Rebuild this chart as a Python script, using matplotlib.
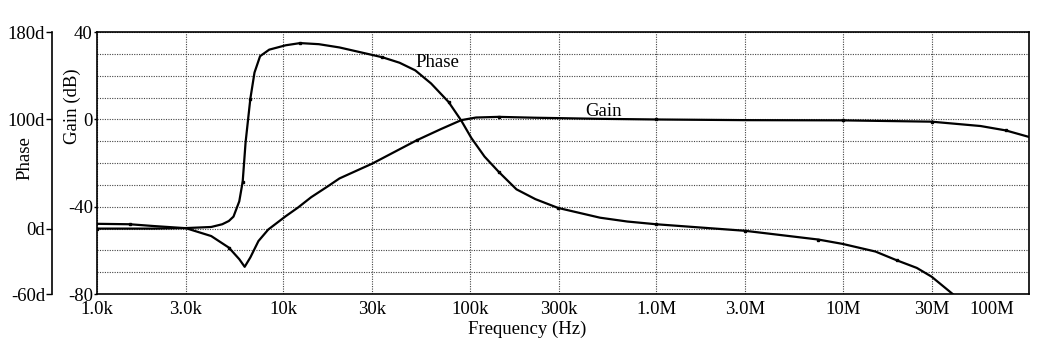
import numpy as np
import matplotlib
matplotlib.use('Agg')
import matplotlib.pyplot as plt
import matplotlib.transforms as mtransforms
from matplotlib.ticker import FixedLocator, NullFormatter

# Gain curve (Hz, dB)
freq_gain = [1e3, 1.5e3, 2e3, 3e3, 4.1e3, 5.1e3, 5.8e3, 6.2e3, 6.65e3, 7.35e3,
             8.3e3, 10.3e3, 12e3, 14.1e3, 17.4e3, 20e3, 30e3, 40e3, 52e3, 70e3,
             90e3, 108e3, 143e3, 225e3, 500e3, 1e6, 3e6, 10e6, 30e6, 55e6,
             75e6, 100e6]
gain_db = [-47.8, -48.0, -48.8, -49.8, -53.4, -58.7, -64.0, -67.5, -63.2, -55.7,
           -50.4, -44.3, -40.3, -35.6, -30.5, -27.0, -20.2, -14.6, -9.5, -4.4,
           -0.3, 0.9, 1.2, 0.8, 0.3, 0.0, -0.3, -0.4, -1.0, -3.0,
           -5.0, -8.0]
gain_marks = [1, 5, 18, 22, 25, 27, 28, 30]

# Phase curve (Hz, degrees)
freq_phase = [1e3, 2e3, 3e3, 4.1e3, 4.7e3, 5.1e3, 5.4e3, 5.8e3, 6.05e3, 6.27e3,
              6.65e3, 7.0e3, 7.5e3, 8.4e3, 10.3e3, 12.3e3, 15.5e3, 20e3, 34e3,
              42e3, 51e3, 62e3, 77e3, 90e3, 102e3, 120e3, 143e3, 178e3, 225e3,
              297e3, 500e3, 700e3, 1e6, 3e6, 7.4e6, 10e6, 15e6, 19.5e6, 25e6,
              30e6, 39e6]
phase_deg = [0, 0, 0.5, 1.5, 4, 7, 11, 25, 43, 79,
             119, 143, 158, 164, 168, 170, 169, 166, 157,
             152, 145, 133, 116, 99, 83, 66, 52, 36, 27,
             19, 10, 6.5, 4, -2, -10, -14, -21, -29, -36,
             -44, -60]
phase_marks = [0, 8, 10, 15, 18, 22, 26, 29, 32, 33, 34, 37]

x_ticks = [1e3, 3e3, 1e4, 3e4, 1e5, 3e5, 1e6, 3e6, 1e7, 3e7, 1e8]
x_labels = ['1.0k', '3.0k', '10k', '30k', '100k', '300k', '1.0M', '3.0M',
            '10M', '30M', '100M']
gain_ticks = [40, 0, -40, -80]
gain_grid = list(range(-80, 41, 10))
phase_ticks = [180, 100, 0, -60]
phase_labels = ['180d', '100d', '0d', '-60d']

plt.rcParams['font.family'] = ['Liberation Serif', 'DejaVu Serif']
plt.rcParams['font.size'] = 13.5
plt.rcParams['axes.unicode_minus'] = False

fig = plt.figure(figsize=(10.37, 3.46), dpi=100)
ax = fig.add_axes([0.0935, 0.150, 0.8988, 0.757])

ax.set_xscale('log')
ax.set_xlim(1e3, 1e8)
ax.set_ylim(-80, 40)

# grid: dotted lines every 10 dB and at 1/3 per decade
ax.xaxis.set_major_locator(FixedLocator(x_ticks))
ax.xaxis.set_minor_locator(FixedLocator([]))
ax.set_xticklabels(x_labels)
ax.yaxis.set_major_locator(FixedLocator(gain_ticks))
ax.yaxis.set_minor_locator(FixedLocator(gain_grid))
ax.yaxis.set_minor_formatter(NullFormatter())
ax.grid(True, which='both', color='#444444', linestyle=(0, (1, 1.2)), linewidth=0.8)
ax.tick_params(axis='x', length=0, pad=5)
ax.tick_params(axis='y', which='major', length=2.5, width=1, pad=0.5)
ax.tick_params(axis='y', which='minor', length=0)
# last frequency label sits inside the frame, as in the scan
last = ax.get_xticklabels()[-1]
last.set_transform(last.get_transform() +
                   mtransforms.ScaledTranslation(-0.37, 0, fig.dpi_scale_trans))
for s in ax.spines.values():
    s.set_linewidth(1.2)

ax.plot(freq_gain, gain_db, color='black', linewidth=1.6,
        marker='s', markersize=2, markevery=gain_marks)

# phase axis on its own spine, left of the gain axis
ax2 = ax.twinx()
ax2.set_ylim(-60, 180)
ax2.yaxis.set_ticks_position('left')
ax2.yaxis.set_label_position('left')
for name in ['top', 'right', 'bottom']:
    ax2.spines[name].set_visible(False)
ax2.spines['left'].set_visible(True)
ax2.spines['left'].set_position(('outward', 32.4))
ax2.spines['left'].set_linewidth(1.2)
ax2.yaxis.set_major_locator(FixedLocator(phase_ticks))
ax2.set_yticklabels(phase_labels)
ax2.tick_params(axis='y', length=4, width=1, pad=1)

ax2.plot(freq_phase, phase_deg, color='black', linewidth=1.6,
         marker='s', markersize=2, markevery=phase_marks)

ax.text(51e3, 26, 'Phase', ha='left', va='center')
ax.text(415e3, 3.5, 'Gain', ha='left', va='center')

fig.text(25 / 1037, 1 - 158 / 346, 'Phase', rotation=90, ha='center', va='center')
fig.text(72 / 1037, 1 - 106 / 346, 'Gain (dB)', rotation=90, ha='center', va='center')
fig.text(527 / 1037, 1 - 329 / 346, 'Frequency (Hz)', ha='center', va='center')

fig.savefig('out.png', dpi=100)
